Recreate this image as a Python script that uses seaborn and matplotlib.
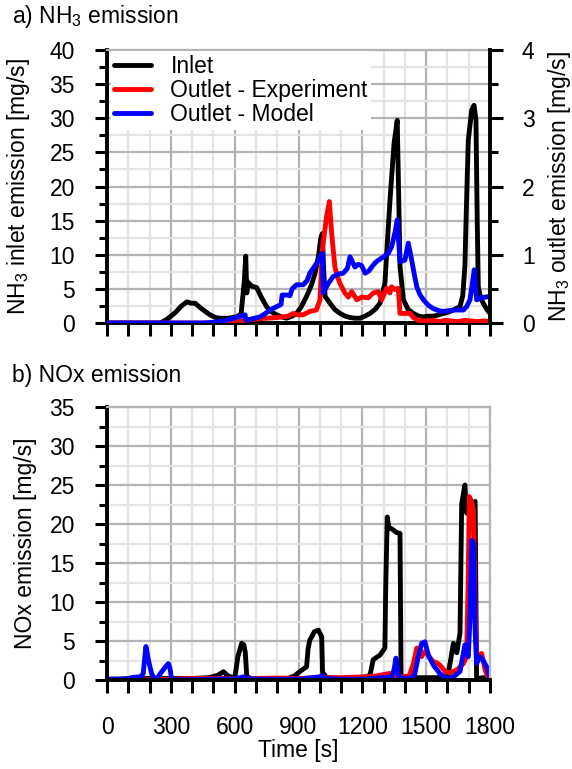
import matplotlib
matplotlib.use("Agg")
import matplotlib.pyplot as plt
from matplotlib.ticker import MultipleLocator
from matplotlib.lines import Line2D
import seaborn as sns

# ---- a) NH3 emission -------------------------------------------------------
nh3_in_t = [0, 250, 280, 320, 350, 376, 395, 414, 440, 470, 484, 510, 531, 570, 609,
            630, 645, 652, 657, 662, 680, 703, 725, 750, 775, 797, 820, 844, 870, 891,
            915, 938, 960, 978, 995, 1005, 1012, 1018, 1025, 1048, 1070, 1095, 1120,
            1142, 1165, 1189, 1212, 1236, 1260, 1283, 1306, 1318, 1330, 1349, 1364,
            1370, 1377, 1393, 1415, 1440, 1465, 1487, 1510, 1534, 1560, 1581, 1605,
            1628, 1659, 1672, 1682, 1690, 1698, 1714, 1725, 1734, 1740, 1745, 1755,
            1768, 1785, 1800]
nh3_in_v = [0, 0, 0.5, 1.5, 2.5, 3.1, 2.9, 2.9, 2.2, 1.5, 1.2, 0.8, 0.7, 0.7, 0.9,
            1.3, 6.0, 9.8, 4.4, 6.0, 5.4, 5.2, 3.8, 2.4, 1.6, 1.2, 0.9, 0.7, 1.0, 1.4,
            2.5, 3.9, 5.5, 7.3, 10.0, 12.5, 13.1, 8.0, 3.9, 2.9, 2.0, 1.4, 1.0,
            0.8, 0.7, 0.7, 1.0, 1.4, 2.0, 2.9, 5.8, 12.0, 18.0, 26.3, 29.7,
            20.0, 8.3, 3.4, 2.0, 1.4, 1.0, 0.9, 1.0, 1.0, 1.2, 1.4, 1.6,
            1.9, 2.4, 4.0, 8.3, 18.0, 26.8, 31.2, 31.9, 29.7, 15.0, 5.3, 3.8,
            2.9, 2.0, 1.4]

nh3_exp_t = [0, 500, 600, 650, 700, 750, 800, 850, 876, 900, 922, 953, 984, 1001,
             1012, 1032, 1045, 1056, 1071, 1083, 1095, 1118, 1134, 1150, 1174, 1197,
             1228, 1251, 1275, 1291, 1314, 1330, 1337, 1353, 1369, 1377, 1400, 1424,
             1440, 1463, 1500, 1530, 1560, 1590, 1620, 1650, 1680, 1710, 1740, 1770,
             1800]
nh3_exp_v = [0, 0, 0.01, 0.04, 0.06, 0.07, 0.08, 0.10, 0.14, 0.12, 0.12, 0.17, 0.19, 0.34,
             1.07, 1.56, 1.78, 1.31, 0.82, 0.68, 0.58, 0.44, 0.38, 0.46, 0.34, 0.38,
             0.37, 0.44, 0.46, 0.34, 0.51, 0.44, 0.53, 0.49, 0.51, 0.14, 0.14, 0.14,
             0.08, 0.04, 0.03, 0.04, 0.02, 0.04, 0.03, 0.02, 0.04, 0.03, 0.02, 0.03,
             0.02]

nh3_mod_t = [0, 450, 500, 550, 594, 630, 649, 652, 680, 719, 745, 766, 797, 818, 823,
             845, 860, 870, 891, 922, 940, 953, 984, 1000, 1012, 1016, 1040, 1063,
             1090, 1110, 1130, 1142, 1165, 1180, 1197, 1213, 1230, 1244, 1260, 1275,
             1300, 1322, 1338, 1355, 1364, 1377, 1400, 1416, 1432, 1445, 1456, 1470,
             1487, 1510, 1534, 1560, 1581, 1605, 1628, 1650, 1675, 1690, 1706, 1718,
             1726, 1737, 1760, 1780, 1800]
nh3_mod_v = [0, 0, 0.01, 0.03, 0.07, 0.10, 0.12, 0.04, 0.06, 0.09, 0.14, 0.19, 0.24, 0.27, 0.41,
             0.41, 0.40, 0.50, 0.56, 0.56, 0.62, 0.73, 0.87, 0.95, 1.02, 0.44, 0.58, 0.68,
             0.72, 0.73, 0.80, 0.97, 0.82, 0.86, 0.84, 0.73, 0.76, 0.82, 0.88, 0.92,
             0.97, 1.02, 1.12, 1.35, 1.51, 0.90, 0.92, 1.17, 0.92, 0.70, 0.53, 0.42,
             0.34, 0.26, 0.21, 0.18, 0.17, 0.18, 0.19, 0.19, 0.19, 0.24, 0.34, 0.60,
             0.78, 0.34, 0.37, 0.38, 0.39]

# ---- b) NOx emission -------------------------------------------------------
nox_in_t = [0, 100, 200, 300, 400, 480, 520, 547, 570, 595, 602, 615, 633, 643, 650,
            657, 680, 750, 850, 880, 907, 938, 945, 953, 975, 993, 1009, 1013, 1032,
            1100, 1200, 1236, 1251, 1283, 1306, 1310, 1317, 1325, 1338, 1361, 1377,
            1382, 1450, 1550, 1600, 1612, 1628, 1644, 1659, 1667, 1682, 1690, 1714,
            1730, 1737, 1770, 1800]
nox_in_v = [0.1, 0.15, 0.2, 0.2, 0.2, 0.3, 0.6, 1.06, 0.5, 0.3, 0.5, 3.0, 4.7, 4.5, 3.5,
            0.4, 0.2, 0.2, 0.2, 0.5, 1.1, 1.7, 4.0, 5.1, 6.2, 6.4, 5.55, 1.0, 0.3,
            0.2, 0.3, 0.6, 2.6, 3.2, 4.1, 12.0, 20.9, 19.5, 19.4, 18.9, 18.8,
            0.4, 0.3, 0.3, 0.4, 2.1, 4.7, 3.5, 6.0, 22.6, 25.0, 21.4, 22.2,
            22.9, 0.2, 0.3, 0.2]

nox_exp_t = [0, 200, 300, 400, 500, 600, 700, 800, 900, 1000, 1100, 1200, 1260, 1300,
             1330, 1350, 1372, 1420, 1440, 1456, 1465, 1479, 1490, 1503, 1520, 1534,
             1550, 1565, 1589, 1612, 1644, 1675, 1690, 1697, 1703, 1712, 1722, 1730,
             1737, 1750, 1761, 1777, 1793, 1800]
nox_exp_v = [0, 0.05, 0.1, 0.2, 0.2, 0.2, 0.2, 0.25, 0.2, 0.3, 0.3, 0.4, 0.5, 0.7,
             0.85, 0.6, 0.4, 0.5, 2.1, 4.1, 3.6, 3.0, 3.6, 3.5, 2.8, 2.35,
             2.2, 1.9, 1.1, 0.9, 1.3, 2.1, 3.0, 12.0, 23.5, 23.0, 21.8, 9.7,
             3.5, 3.2, 3.4, 1.3, 0.2, 0.2]

nox_mod_t = [0, 60, 100, 124, 156, 170, 183, 195, 210, 218, 233, 250, 270, 288, 296,
             304, 400, 500, 600, 640, 660, 700, 900, 1000, 1010, 1025, 1100, 1200,
             1300, 1340, 1350, 1358, 1365, 1372, 1424, 1445, 1463, 1479, 1494, 1510,
             1534, 1565, 1597, 1628, 1659, 1682, 1698, 1706, 1714, 1722, 1730, 1737,
             1753, 1770, 1784, 1800]
nox_mod_v = [0.1, 0.1, 0.2, 0.35, 0.4, 0.8, 4.3, 2.5, 0.8, 0.4, 0.1, 0.8, 1.5, 2.1, 1.5,
             0.05, 0.05, 0.1, 0.15, 0.4, 0.2, 0.1, 0.1, 0.4, 0.6, 0.2, 0.1, 0.1,
             0.3, 0.4, 1.5, 2.8, 1.5, 0.3, 0.2, 0.6, 3.0, 4.7, 4.9, 3.2,
             1.9, 0.8, 0.2, 0.4, 1.1, 4.5, 3.0, 8.0, 17.9, 17.5, 6.4, 2.1,
             3.0, 2.4, 1.7, 0.3]

x_ticks = [0, 300, 600, 900, 1200, 1500, 1800]
series_labels = ["Inlet", "Outlet - Experiment", "Outlet - Model"]
series_colors = ["black", "#ff0000", "#0000ff"]

sns.set_theme(style="white")
plt.rcParams["font.family"] = ["Liberation Sans", "DejaVu Sans"]
plt.rcParams["mathtext.fontset"] = "custom"
plt.rcParams["mathtext.rm"] = "Liberation Sans"
plt.rcParams["mathtext.it"] = "Liberation Sans:italic"
for key in ("text.color", "axes.labelcolor", "xtick.color", "ytick.color",
            "xtick.labelcolor", "ytick.labelcolor"):
    plt.rcParams[key] = "black"

FS = 16.5
LW = 3.5
MAJ_GRID = "#b4b4b4"
MIN_GRID = "#e4e4e4"

fig = plt.figure(figsize=(5.72, 7.69), dpi=100)
W, H = 572, 769


def frac_axes(left, top, right, bottom):
    return fig.add_axes([left / W, 1 - bottom / H, (right - left) / W, (bottom - top) / H])


def style_axes(ax, ymax, ymajor, yminor, show_xlabels):
    ax.set_xlim(0, 1800)
    ax.set_ylim(0, ymax)
    ax.xaxis.set_major_locator(MultipleLocator(300))
    ax.xaxis.set_minor_locator(MultipleLocator(100))
    ax.yaxis.set_major_locator(MultipleLocator(ymajor))
    ax.yaxis.set_minor_locator(MultipleLocator(yminor))
    ax.grid(which="major", color=MAJ_GRID, lw=1.6, zorder=0)
    ax.grid(which="minor", color=MIN_GRID, lw=1.6, zorder=0)
    ax.set_axisbelow(True)
    for side in ("left", "bottom"):
        ax.spines[side].set_color("black")
        ax.spines[side].set_linewidth(2.8)
    for side in ("top", "right"):
        ax.spines[side].set_color(MAJ_GRID)
        ax.spines[side].set_linewidth(1.6)
    ax.tick_params(axis="y", which="major", direction="out", length=9, width=2.2,
                   color="black", labelsize=FS, pad=14, left=True)
    ax.tick_params(axis="y", which="minor", direction="out", length=6, width=2.2,
                   color="black", left=True)
    ax.tick_params(axis="x", which="both", direction="out", length=9, width=2.2,
                   color="black", labelsize=FS, pad=17, bottom=True)
    if not show_xlabels:
        ax.tick_params(axis="x", labelbottom=False)
    ax.set_xlabel("")
    ax.set_ylabel("")


def draw(ax, t, v, color):
    sns.lineplot(x=t, y=v, ax=ax, color=color, lw=LW, estimator=None, sort=False,
                 legend=False, solid_joinstyle="round", solid_capstyle="round")


# ---- top panel ----
ax1 = frac_axes(107, 50, 490, 323)
draw(ax1, nh3_in_t, nh3_in_v, series_colors[0])
style_axes(ax1, 40, 5, 2.5, show_xlabels=False)
ax1.set_ylabel(r"$\mathregular{NH_3}$ inlet emission [mg/s]", fontsize=FS)
ax1.yaxis.set_label_coords(-0.196, 0.5)

ax1r = ax1.twinx()
draw(ax1r, nh3_exp_t, nh3_exp_v, series_colors[1])
draw(ax1r, nh3_mod_t, nh3_mod_v, series_colors[2])
ax1r.set_ylim(0, 4)
ax1r.yaxis.set_major_locator(MultipleLocator(1))
ax1r.yaxis.set_minor_locator(MultipleLocator(0.5))
ax1r.spines["right"].set_color("black")
ax1r.spines["right"].set_linewidth(2.8)
for side in ("left", "top", "bottom"):
    ax1r.spines[side].set_visible(False)
ax1r.tick_params(axis="y", which="major", direction="out", length=9, width=2.2,
                 color="black", labelsize=FS, pad=14, right=True)
ax1r.tick_params(axis="y", which="minor", direction="out", length=6, width=2.2,
                 color="black", right=True)
ax1r.grid(False)
ax1r.set_xlabel("")
ax1r.set_ylabel(r"$\mathregular{NH_3}$ outlet emission [mg/s]", fontsize=FS)
ax1r.yaxis.set_label_coords(1.146, 0.5)

handles = [Line2D([0], [0], color=c, lw=LW) for c in series_colors]
leg = ax1r.legend(handles, series_labels, loc="upper left", bbox_to_anchor=(0.01, 0.995),
                  borderaxespad=0, fontsize=FS, frameon=True, fancybox=False,
                  framealpha=1, facecolor="white", edgecolor="none",
                  handlelength=1.6, handletextpad=0.85, labelspacing=0.05,
                  borderpad=0.15)
leg.set_zorder(10)

fig.text(12 / W, 1 - 3 / H, r"a) $\mathregular{NH_3}$ emission", fontsize=FS,
         va="top", ha="left")

# ---- bottom panel ----
ax2 = frac_axes(107, 407, 490, 680)
draw(ax2, nox_in_t, nox_in_v, series_colors[0])
draw(ax2, nox_exp_t, nox_exp_v, series_colors[1])
draw(ax2, nox_mod_t, nox_mod_v, series_colors[2])
style_axes(ax2, 35, 5, 2.5, show_xlabels=True)
ax2.set_xticks(x_ticks)
ax2.set_ylabel("NOx emission [mg/s]", fontsize=FS)
ax2.yaxis.set_label_coords(-0.183, 0.5)
ax2.set_xlabel("Time [s]", fontsize=FS, labelpad=0)

fig.text(12 / W, 1 - 364 / H, "b) NOx emission", fontsize=FS, va="top", ha="left")

fig.savefig("out.png", dpi=100)
